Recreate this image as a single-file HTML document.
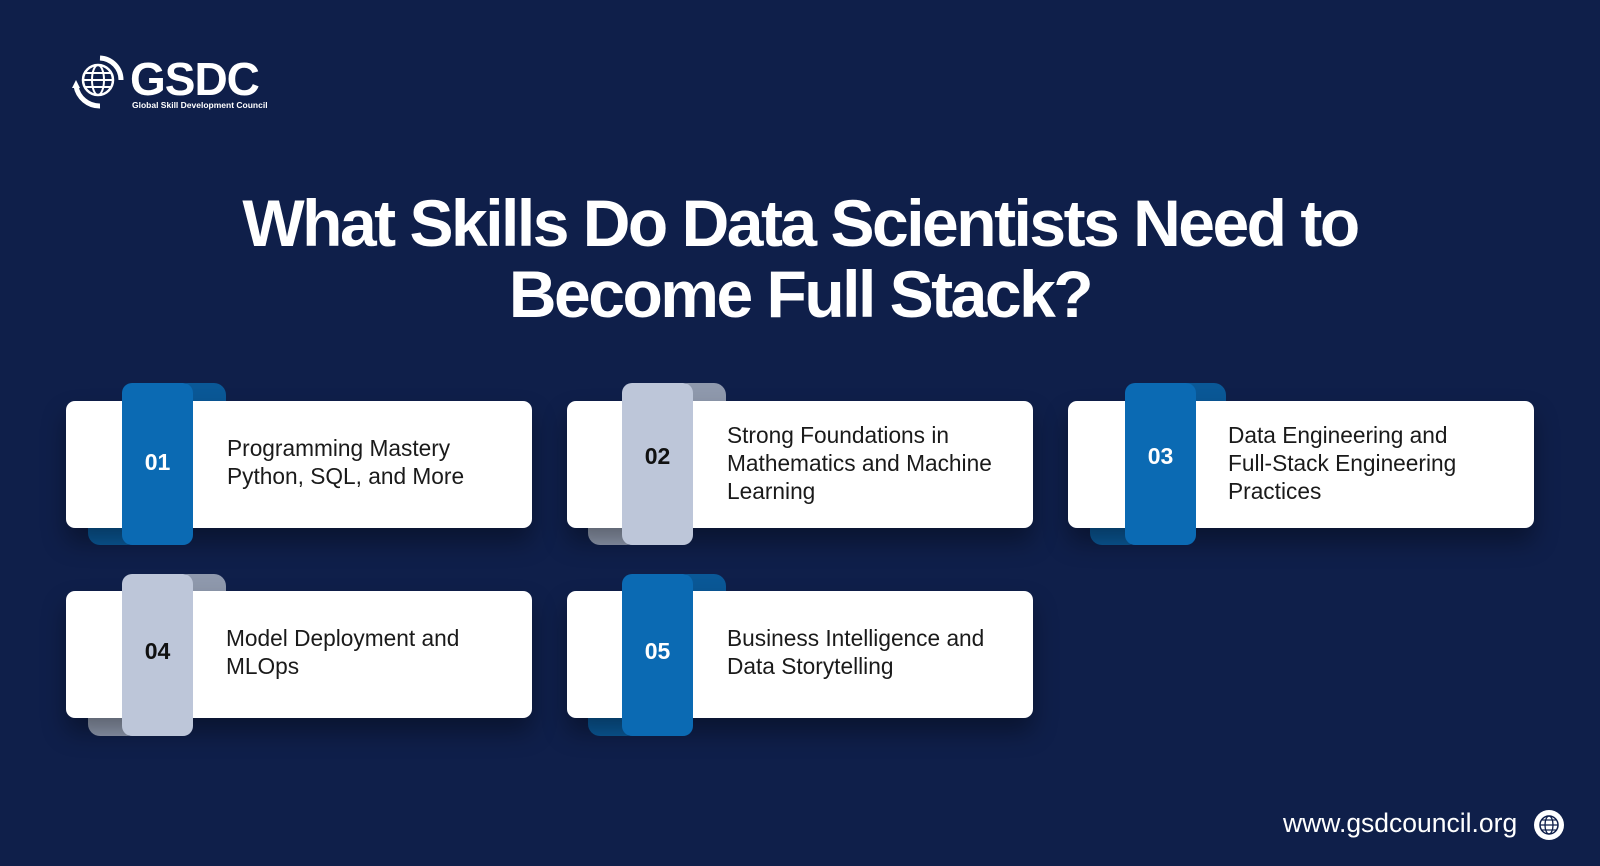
<!DOCTYPE html>
<html><head><meta charset="utf-8"><style>
*{margin:0;padding:0;box-sizing:border-box}
body{width:1600px;height:866px;background:#0f1f4a;position:relative;overflow:hidden;font-family:"Liberation Sans",sans-serif}
.title{position:absolute;left:0;width:1600px;top:188px;text-align:center;color:#fff;font-size:66px;font-weight:bold;letter-spacing:-2.5px;line-height:71px}
.card{position:absolute;width:466px;height:127px;background:#fff;border-radius:9px;box-shadow:0 14px 24px rgba(0,0,0,.35)}
.rib{position:absolute;width:71px;height:162px;border-radius:10px 10px 10px 10px}
.fold1{position:absolute;width:50px;height:24px;border-radius:12px 12px 0 0}
.fold2{position:absolute;width:50px;height:24px;border-radius:0 0 12px 12px}
.num{position:absolute;width:71px;text-align:center;font-weight:bold;font-size:23px}
.txt{position:absolute;font-size:22.7px;line-height:28px;color:#1a1a1a}
.blue .rib{background:#0b6ab3}.blue .fold1,.blue .fold2{background:#0a5897}.blue .num{color:#fff}
.gray .rib{background:#bdc6d9}.gray .fold1,.gray .fold2{background:#8f99ad}.gray .num{color:#111}
</style></head><body>
<svg style="position:absolute;left:70px;top:52px" width="200" height="64" viewBox="0 0 200 64">
<circle cx="28" cy="28" r="15" fill="none" stroke="#fff" stroke-width="2.5"/>
<ellipse cx="28" cy="28" rx="6" ry="15" fill="none" stroke="#fff" stroke-width="2"/>
<line x1="13" y1="28" x2="43" y2="28" stroke="#fff" stroke-width="2"/>
<line x1="15" y1="21" x2="41" y2="21" stroke="#fff" stroke-width="2"/>
<line x1="15" y1="35" x2="41" y2="35" stroke="#fff" stroke-width="2"/>
<path d="M30 6 A22 22 0 0 1 51 28" fill="none" stroke="#fff" stroke-width="5"/>
<path d="M6 34 A24 24 0 0 0 30 54" fill="none" stroke="#fff" stroke-width="5"/>
<polygon points="2,36 10,36 6,28" fill="#fff"/>
<text x="60" y="43" fill="#fff" font-family="Liberation Sans" font-weight="bold" font-size="46" letter-spacing="-1">GSDC</text>
<text x="62" y="56" fill="#fff" font-family="Liberation Sans" font-weight="bold" font-size="8.5">Global Skill Development Council</text>
</svg>
<div class="title">What Skills Do Data Scientists Need to<br>Become Full Stack?</div>

<div class="blue">
<div class="fold1" style="left:176px;top:383px"></div>
<div class="fold2" style="left:88px;top:521px"></div>
<div class="card" style="left:66px;top:401px"></div>
<div class="rib" style="left:122px;top:383px"></div>
<div class="num" style="left:122px;top:449px">01</div>
<div class="txt" style="left:227px;top:434px">Programming Mastery<br>Python, SQL, and More</div>
</div>

<div class="gray">
<div class="fold1" style="left:676px;top:383px"></div>
<div class="fold2" style="left:588px;top:521px"></div>
<div class="card" style="left:567px;top:401px"></div>
<div class="rib" style="left:622px;top:383px"></div>
<div class="num" style="left:622px;top:443px">02</div>
<div class="txt" style="left:727px;top:421px">Strong Foundations in<br>Mathematics and Machine<br>Learning</div>
</div>

<div class="blue">
<div class="fold1" style="left:1176px;top:383px"></div>
<div class="fold2" style="left:1090px;top:521px"></div>
<div class="card" style="left:1068px;top:401px"></div>
<div class="rib" style="left:1125px;top:383px"></div>
<div class="num" style="left:1125px;top:443px">03</div>
<div class="txt" style="left:1228px;top:421px">Data Engineering and<br>Full-Stack Engineering<br>Practices</div>
</div>

<div class="gray">
<div class="fold1" style="left:176px;top:574px"></div>
<div class="fold2" style="left:88px;top:712px"></div>
<div class="card" style="left:66px;top:591px"></div>
<div class="rib" style="left:122px;top:574px"></div>
<div class="num" style="left:122px;top:638px">04</div>
<div class="txt" style="left:226px;top:624px">Model Deployment and<br>MLOps</div>
</div>

<div class="blue">
<div class="fold1" style="left:676px;top:574px"></div>
<div class="fold2" style="left:588px;top:712px"></div>
<div class="card" style="left:567px;top:591px"></div>
<div class="rib" style="left:622px;top:574px"></div>
<div class="num" style="left:622px;top:638px">05</div>
<div class="txt" style="left:727px;top:624px">Business Intelligence and<br>Data Storytelling</div>
</div>

<div style="position:absolute;left:1283px;top:808px;color:#fff;font-size:26.5px">www.gsdcouncil.org</div>
<svg style="position:absolute;left:1533px;top:809px" width="32" height="32" viewBox="0 0 32 32">
<circle cx="16" cy="16" r="15" fill="#fff"/>
<circle cx="16" cy="16" r="9" fill="none" stroke="#0f1f4a" stroke-width="1.5"/>
<ellipse cx="16" cy="16" rx="4" ry="9" fill="none" stroke="#0f1f4a" stroke-width="1.3"/>
<line x1="7" y1="16" x2="25" y2="16" stroke="#0f1f4a" stroke-width="1.3"/>
<line x1="9" y1="11" x2="23" y2="11" stroke="#0f1f4a" stroke-width="1.2"/>
<line x1="9" y1="21" x2="23" y2="21" stroke="#0f1f4a" stroke-width="1.2"/>
</svg>
</body></html>
